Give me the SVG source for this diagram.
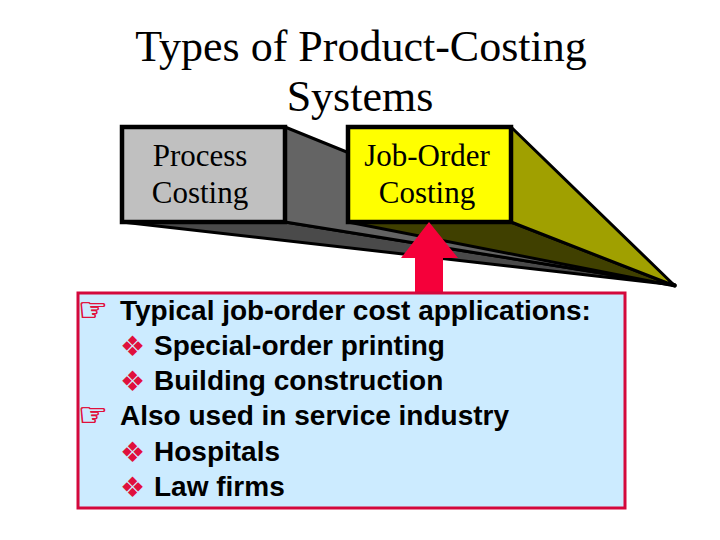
<svg xmlns="http://www.w3.org/2000/svg" width="720" height="540" viewBox="0 0 720 540">
<style>
.title{font-family:"Liberation Serif","Times New Roman",serif;font-size:44px;fill:#000;text-anchor:middle}
.lbl{font-family:"Liberation Serif","Times New Roman",serif;font-size:31px;fill:#000;text-anchor:middle}
.b{font-family:"Liberation Sans",Arial,sans-serif;font-size:28px;font-weight:bold;fill:#000}
.sym{font-family:"DejaVu Sans",sans-serif;fill:#E0103C;font-weight:normal}
.hand{font-size:33px;stroke:#E0103C;stroke-width:0.7}
.dia{font-size:28px}
.edge{stroke:#000;stroke-width:3;stroke-linejoin:round}
.front{stroke:#000;stroke-width:4.5}
</style>
<rect width="720" height="540" fill="#fff"/>
<text class="title" x="361" y="61">Types of Product-Costing</text>
<text class="title" x="360" y="111">Systems</text>
<g id="process-costing">
<polygon class="edge" points="122,222 285,222 675,285" fill="#4a4a4a"/>
<polygon class="edge" points="285,127 675,285 285,222" fill="#646464"/>
<rect class="front" x="122" y="127" width="163" height="95" fill="#C0C0C0"/>
<text class="lbl" x="200" y="166">Process</text>
<text class="lbl" x="200" y="203">Costing</text>
</g>
<g id="job-order-costing">
<polygon class="edge" points="348,222 511,222 675,286" fill="#404000"/>
<polygon class="edge" points="511,127 675,286 511,222" fill="#A0A000"/>
<rect class="front" x="348" y="127" width="163" height="95" fill="#FFFF00"/>
<text class="lbl" x="427" y="166">Job-Order</text>
<text class="lbl" x="427" y="203">Costing</text>
</g>
<g id="connectors">
<polygon points="429,222 458,258 443,258 443,293 415,293 415,258 401,258" fill="#F5003A"/>
</g>
<g id="applications">
<rect x="78" y="293" width="547" height="215" fill="#CCEBFF" stroke="#D4083C" stroke-width="3"/>
<text class="sym hand" x="78" y="321">☞</text>
<text class="b" x="120" y="320">Typical job-order cost applications:</text>
<text class="sym dia" x="120" y="356">❖</text>
<text class="b" x="154" y="355">Special-order printing</text>
<text class="sym dia" x="120" y="391">❖</text>
<text class="b" x="154" y="390">Building construction</text>
<text class="sym hand" x="78" y="426">☞</text>
<text class="b" x="120" y="425">Also used in service industry</text>
<text class="sym dia" x="120" y="462">❖</text>
<text class="b" x="154" y="461">Hospitals</text>
<text class="sym dia" x="120" y="497">❖</text>
<text class="b" x="154" y="496">Law firms</text>
</g>
</svg>
